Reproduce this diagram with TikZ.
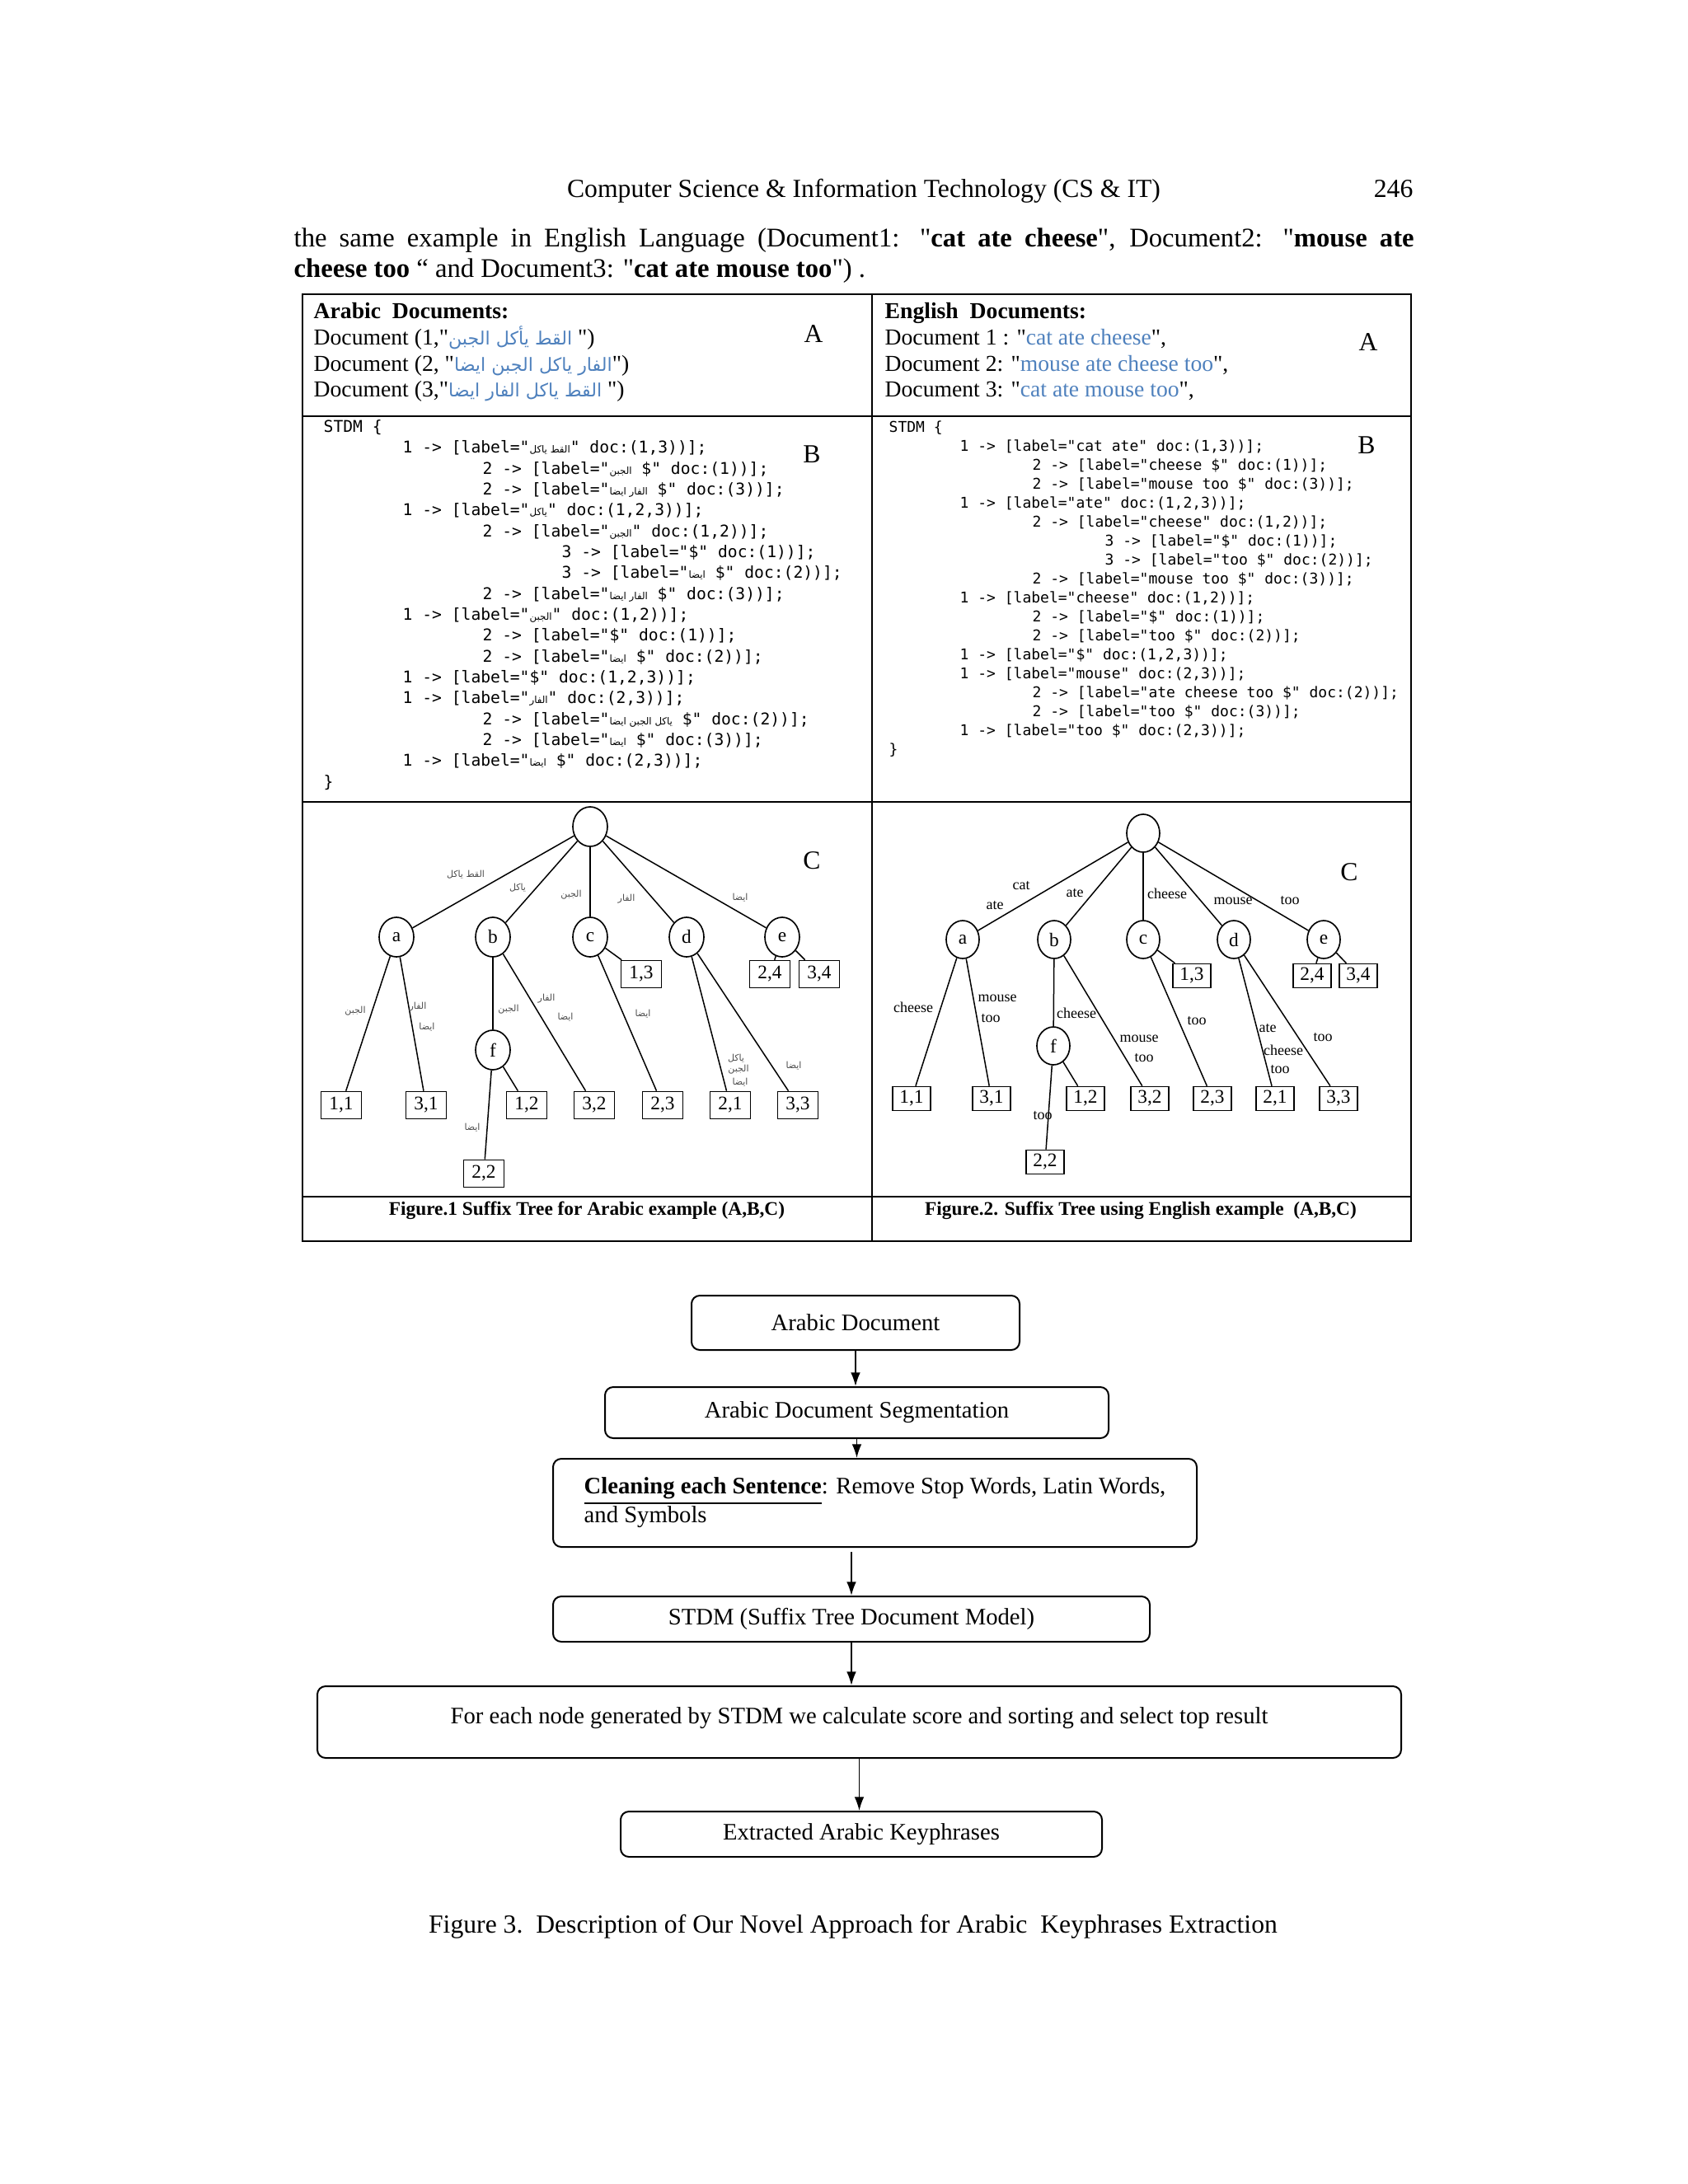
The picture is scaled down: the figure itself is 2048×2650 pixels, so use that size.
\documentclass[tikz,border=0pt]{standalone}
\usepackage{fontspec}
\setmainfont{Liberation Serif}[Ligatures=TeXOff]
\newfontfamily\codefont{DejaVu Sans Mono}
\newfontfamily\arabicfont[Script=Arabic,Scale=0.8]{DejaVu Sans}
\newfontfamily\arabicsmall[Script=Arabic,Scale=0.6]{DejaVu Sans}
\TeXXeTstate=1
\usetikzlibrary{shapes.geometric,arrows.meta}
\definecolor{docblue}{RGB}{79,129,189}

\tikzset{pagetext/.style={inner sep=0pt,font=\fontsize{9.5}{11}\selectfont}}
\tikzset{doctext/.style={inner sep=0pt,anchor=base west,font=\fontsize{8.3}{10}\selectfont}}
\tikzset{partmark/.style={inner sep=0pt,font=\fontsize{9.5}{11}\selectfont}}
\tikzset{tblline/.style={line width=0.8pt}}
\tikzset{codeblock/.style={inner sep=0pt,anchor=north west,align=left}}
\tikzset{knot/.style={draw,ellipse,line width=0.5pt,inner sep=0pt,minimum width=12.6pt,minimum height=14.4pt,font=\fontsize{7}{8}\selectfont}}
\tikzset{leaf/.style={draw,rectangle,line width=0.5pt,inner sep=0pt,minimum width=14.7pt,minimum height=9.9pt,font=\fontsize{7}{8}\selectfont}}
\tikzset{branch/.style={line width=0.45pt}}
\tikzset{enlab/.style={inner sep=0pt,font=\fontsize{5.4}{6}\selectfont}}
\tikzset{arlab/.style={inner sep=0pt,text=black!70,font=\arabicsmall\fontsize{5.5}{6}\selectfont}}
\tikzset{figcap/.style={inner sep=0pt,anchor=base,font=\fontsize{7}{8}\selectfont\bfseries}}
\tikzset{stepbox/.style={draw,rounded corners=3pt,line width=0.6pt,font=\fontsize{8.6}{10.5}\selectfont}}
\tikzset{flow/.style={-{Latex[length=5pt,width=3.5pt]},line width=0.5pt}}

\begin{document}
\begin{tikzpicture}[x=0.3pt,y=-0.3pt]
\useasboundingbox (0,0) rectangle (2048,2650);

% running head and text
\node[pagetext,anchor=base] (hdr) at (1048,239) {Computer Science \& Information Technology (CS \& IT)};
\node[pagetext,anchor=base east] (pgno) at (1715,239) {246};
\node[pagetext,anchor=base west,font=\fontsize{9.8}{11}\selectfont] (txt1) at (356,299) {\makebox[407.7pt][s]{the same example in English Language (Document1: "\textbf{cat ate cheese}", Document2: "\textbf{mouse ate}}};
\node[pagetext,anchor=base west,font=\fontsize{9.8}{11}\selectfont] (txt2) at (356,336) {\textbf{cheese too} “ and Document3: "\textbf{cat ate mouse too}") .};

% table
\draw[tblline] (367,357) rectangle (1712,1506);
\draw[tblline] (1058,357) -- (1058,1506);
\draw[tblline] (367,505) -- (1712,505);
\draw[tblline] (367,973) -- (1712,973);
\draw[tblline] (367,1452) -- (1712,1452);

% part A
\node[doctext] (ahead) at (380,386) {\textbf{Arabic\ \ Documents:}};
\node[doctext] (adoc1) at (380,418) {Document (1,"\textcolor{docblue}{\arabicfont\beginR القط يأكل الجبن\endR} ")};
\node[doctext] (adoc2) at (380,450) {Document (2, "\textcolor{docblue}{\arabicfont\beginR الفار ياكل الجبن ايضا\endR}")};
\node[doctext] (adoc3) at (380,481) {Document (3,"\textcolor{docblue}{\arabicfont\beginR القط ياكل الفار ايضا\endR} ")};
\node[partmark] (amarkA) at (987,405) {A};
\node[doctext] (ehead) at (1073,386) {\textbf{English\ \ Documents:}};
\node[doctext] (edoc1) at (1073,418) {Document 1 : "\textcolor{docblue}{cat ate cheese}",};
\node[doctext] (edoc2) at (1073,450) {Document 2: "\textcolor{docblue}{mouse ate cheese too}",};
\node[doctext] (edoc3) at (1073,481) {Document 3: "\textcolor{docblue}{cat ate mouse too}",};
\node[partmark] (emarkA) at (1660,415) {A};

% part B
\node[codeblock,font=\codefont\fontsize{5.9}{7.6}\selectfont] (acode) at (392,509) {STDM \{\\
\hspace*{28.8pt}1 -> [label="{\arabicsmall\beginR القط ياكل\endR}" doc:(1,3))];\\
\hspace*{57.9pt}2 -> [label="{\arabicsmall\beginR الجبن\endR} \$" doc:(1))];\\
\hspace*{57.9pt}2 -> [label="{\arabicsmall\beginR الفار ايضا\endR} \$" doc:(3))];\\
\hspace*{28.8pt}1 -> [label="{\arabicsmall\beginR ياكل\endR}" doc:(1,2,3))];\\
\hspace*{57.9pt}2 -> [label="{\arabicsmall\beginR الجبن\endR}" doc:(1,2))];\\
\hspace*{86.7pt}3 -> [label="\$" doc:(1))];\\
\hspace*{86.7pt}3 -> [label="{\arabicsmall\beginR ايضا\endR} \$" doc:(2))];\\
\hspace*{57.9pt}2 -> [label="{\arabicsmall\beginR الفار ايضا\endR} \$" doc:(3))];\\
\hspace*{28.8pt}1 -> [label="{\arabicsmall\beginR الجبن\endR}" doc:(1,2))];\\
\hspace*{57.9pt}2 -> [label="\$" doc:(1))];\\
\hspace*{57.9pt}2 -> [label="{\arabicsmall\beginR ايضا\endR} \$" doc:(2))];\\
\hspace*{28.8pt}1 -> [label="\$" doc:(1,2,3))];\\
\hspace*{28.8pt}1 -> [label="{\arabicsmall\beginR الفار\endR}" doc:(2,3))];\\
\hspace*{57.9pt}2 -> [label="{\arabicsmall\beginR ياكل الجبن ايضا\endR} \$" doc:(2))];\\
\hspace*{57.9pt}2 -> [label="{\arabicsmall\beginR ايضا\endR} \$" doc:(3))];\\
\hspace*{28.8pt}1 -> [label="{\arabicsmall\beginR ايضا\endR} \$" doc:(2,3))];\\
\}};
\node[partmark] (amarkB) at (985,551) {B};
\node[codeblock,font=\codefont\fontsize{5.4}{6.9}\selectfont] (ecode) at (1078,510) {STDM \{\\
\hspace*{25.8pt}1 -> [label="cat ate" doc:(1,3))];\\
\hspace*{52.2pt}2 -> [label="cheese \$" doc:(1))];\\
\hspace*{52.2pt}2 -> [label="mouse too \$" doc:(3))];\\
\hspace*{25.8pt}1 -> [label="ate" doc:(1,2,3))];\\
\hspace*{52.2pt}2 -> [label="cheese" doc:(1,2))];\\
\hspace*{78.6pt}3 -> [label="\$" doc:(1))];\\
\hspace*{78.6pt}3 -> [label="too \$" doc:(2))];\\
\hspace*{52.2pt}2 -> [label="mouse too \$" doc:(3))];\\
\hspace*{25.8pt}1 -> [label="cheese" doc:(1,2))];\\
\hspace*{52.2pt}2 -> [label="\$" doc:(1))];\\
\hspace*{52.2pt}2 -> [label="too \$" doc:(2))];\\
\hspace*{25.8pt}1 -> [label="\$" doc:(1,2,3))];\\
\hspace*{25.8pt}1 -> [label="mouse" doc:(2,3))];\\
\hspace*{52.2pt}2 -> [label="ate cheese too \$" doc:(2))];\\
\hspace*{52.2pt}2 -> [label="too \$" doc:(3))];\\
\hspace*{25.8pt}1 -> [label="too \$" doc:(2,3))];\\
\}};
\node[partmark] (emarkB) at (1658,540) {B};

% part C, arabic tree
\node[knot] (lr) at (716,1003) {};
\node[knot] (la) at (481,1137) {a};
\node[knot] (lb) at (598,1137) {b};
\node[knot] (lc) at (716,1137) {c};
\node[knot] (ld) at (833,1137) {d};
\node[knot] (le) at (949,1137) {e};
\node[knot] (lf) at (598,1274) {f};
\node[leaf] (l11) at (414,1341) {1,1};
\node[leaf] (l31) at (517,1341) {3,1};
\node[leaf] (l12) at (639,1341) {1,2};
\node[leaf] (l32) at (721,1341) {3,2};
\node[leaf] (l23) at (804,1341) {2,3};
\node[leaf] (l21) at (886,1341) {2,1};
\node[leaf] (l33) at (968,1341) {3,3};
\node[leaf] (l13) at (778,1182) {1,3};
\node[leaf] (l24) at (934,1182) {2,4};
\node[leaf] (l34) at (994,1182) {3,4};
\node[leaf] (l22) at (587,1424) {2,2};
\draw[branch] (lr) -- (la);
\draw[branch] (lr) -- (lb);
\draw[branch] (lr) -- (lc);
\draw[branch] (lr) -- (ld);
\draw[branch] (lr) -- (le);
\draw[branch] (la) -- (l11);
\draw[branch] (la) -- (l31);
\draw[branch] (lb) -- (lf);
\draw[branch] (lb) -- (l32);
\draw[branch] (lf) -- (l12);
\draw[branch] (lf) -- (l22);
\draw[branch] (lc) -- (l13);
\draw[branch] (lc) -- (l23);
\draw[branch] (ld) -- (l21);
\draw[branch] (ld) -- (l33);
\draw[branch] (le) -- (l24);
\draw[branch] (le) -- (l34);
\node[arlab] (al1) at (565,1061) {\beginR القط ياكل\endR};
\node[arlab] (al2) at (628,1077) {\beginR ياكل\endR};
\node[arlab] (al3) at (693,1086) {\beginR الجبن\endR};
\node[arlab] (al4) at (760,1091) {\beginR الفار\endR};
\node[arlab] (al5) at (898,1089) {\beginR ايضا\endR};
\node[arlab] (al6) at (431,1227) {\beginR الجبن\endR};
\node[arlab] (al7) at (507,1222) {\beginR الفار\endR};
\node[arlab] (al8) at (518,1246) {\beginR ايضا\endR};
\node[arlab] (al9) at (617,1225) {\beginR الجبن\endR};
\node[arlab] (al10) at (663,1212) {\beginR الفار\endR};
\node[arlab] (al11) at (686,1234) {\beginR ايضا\endR};
\node[arlab] (al12) at (780,1230) {\beginR ايضا\endR};
\node[arlab] (al13) at (893,1284) {\beginR ياكل\endR};
\node[arlab] (al14) at (896,1298) {\beginR الجبن\endR};
\node[arlab] (al15) at (898,1313) {\beginR ايضا\endR};
\node[arlab] (al16) at (963,1293) {\beginR ايضا\endR};
\node[arlab] (al17) at (573,1368) {\beginR ايضا\endR};
\node[partmark] (amarkC) at (985,1044) {C};
\node[figcap] (acap) at (712,1474) {Figure.1 Suffix Tree for Arabic example (A,B,C)};

% part C, english tree
\begin{scope}[knot/.append style={minimum width=12pt,minimum height=13.8pt},leaf/.append style={minimum width=13.8pt,minimum height=8.7pt}]
\node[knot] (rr) at (1387,1011) {};
\node[knot] (ra) at (1168,1140) {a};
\node[knot] (rb) at (1279,1140) {b};
\node[knot] (rc) at (1387,1140) {c};
\node[knot] (rd) at (1497,1140) {d};
\node[knot] (re) at (1606,1140) {e};
\node[knot] (rf) at (1278,1269) {f};
\node[leaf] (r11) at (1106,1333) {1,1};
\node[leaf] (r31) at (1203,1333) {3,1};
\node[leaf] (r12) at (1317,1333) {1,2};
\node[leaf] (r32) at (1395,1333) {3,2};
\node[leaf] (r23) at (1471,1333) {2,3};
\node[leaf] (r21) at (1547,1333) {2,1};
\node[leaf] (r33) at (1624,1333) {3,3};
\node[leaf] (r13) at (1446,1184) {1,3};
\node[leaf] (r24) at (1592,1184) {2,4};
\node[leaf] (r34) at (1648,1184) {3,4};
\node[leaf] (r22) at (1268,1410) {2,2};
\end{scope}
\draw[branch] (rr) -- (ra);
\draw[branch] (rr) -- (rb);
\draw[branch] (rr) -- (rc);
\draw[branch] (rr) -- (rd);
\draw[branch] (rr) -- (re);
\draw[branch] (ra) -- (r11);
\draw[branch] (ra) -- (r31);
\draw[branch] (rb) -- (rf);
\draw[branch] (rb) -- (r32);
\draw[branch] (rf) -- (r12);
\draw[branch] (rf) -- (r22);
\draw[branch] (rc) -- (r13);
\draw[branch] (rc) -- (r23);
\draw[branch] (rd) -- (r21);
\draw[branch] (rd) -- (r33);
\draw[branch] (re) -- (r24);
\draw[branch] (re) -- (r34);
\node[enlab] (el1) at (1239,1075) {cat};
\node[enlab] (el2) at (1207,1099) {ate};
\node[enlab] (el3) at (1304,1084) {ate};
\node[enlab] (el4) at (1416,1084) {cheese};
\node[enlab] (el5) at (1496,1093) {mouse};
\node[enlab] (el6) at (1565,1093) {too};
\node[enlab] (el7) at (1108,1222) {cheese};
\node[enlab] (el8) at (1210,1211) {mouse};
\node[enlab] (el9) at (1202,1236) {too};
\node[enlab] (el10) at (1306,1229) {cheese};
\node[enlab] (el11) at (1382,1260) {mouse};
\node[enlab] (el12) at (1388,1284) {too};
\node[enlab] (el13) at (1452,1239) {too};
\node[enlab] (el14) at (1538,1248) {ate};
\node[enlab] (el15) at (1557,1274) {cheese};
\node[enlab] (el16) at (1553,1298) {too};
\node[enlab] (el17) at (1605,1259) {too};
\node[enlab] (el18) at (1265,1354) {too};
\node[partmark] (emarkC) at (1637,1058) {C};
\node[figcap] (ecap) at (1384,1474) {Figure.2. Suffix Tree using English example\ \ (A,B,C)};

% flowchart
\node[stepbox,minimum width=119.4pt,minimum height=19.8pt] (s1) at (1038,1605) {Arabic Document};
\node[stepbox,minimum width=183.3pt,minimum height=18.6pt] (s2) at (1039.5,1714) {Arabic Document Segmentation};
\node[stepbox,minimum width=234.3pt,minimum height=32.1pt,align=left] (s3) at (1061.5,1823.5) {\underline{\textbf{Cleaning each Sentence}}: Remove Stop Words, Latin Words,\\and Symbols};
\node[stepbox,minimum width=217.2pt,minimum height=16.5pt] (s4) at (1033,1964.5) {STDM (Suffix Tree Document Model)};
\node[stepbox,minimum width=394.5pt,minimum height=26.1pt,text depth=5pt] (s5) at (1042.5,2089.5) {For each node generated by STDM we calculate score and sorting and select top result};
\node[stepbox,minimum width=175.2pt,minimum height=16.5pt] (s6) at (1045,2225.5) {Extracted Arabic Keyphrases};
\draw[flow] (s1.south) -- (s1.south |- s2.north);
\draw[flow] (s2.south) -- (s2.south |- s3.north);
\draw[flow] ([yshift=-1.5pt]s4.north |- s3.south) -- (s4.north);
\draw[flow] (s4.south) -- (s4.south |- s5.north);
\draw[flow] (s5.south) -- (s5.south |- s6.north);
\node[pagetext,anchor=base] (cap3) at (1035,2345) {Figure 3.\ \ Description of Our Novel Approach for Arabic\ \ Keyphrases Extraction};
\end{tikzpicture}
\end{document}
